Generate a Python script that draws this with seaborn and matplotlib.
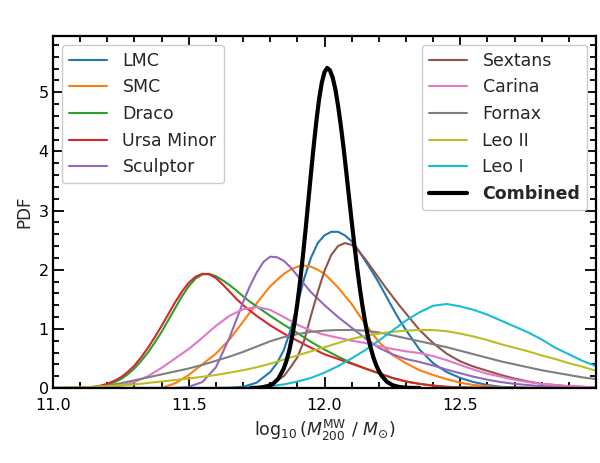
import numpy as np
import pandas as pd
import seaborn as sns
from matplotlib import pyplot as plt

# x grid shared by the broad curves
x_grid = [11.00, 11.05, 11.10, 11.15, 11.20, 11.25, 11.30, 11.35, 11.40, 11.45,
          11.50, 11.55, 11.60, 11.65, 11.70, 11.75, 11.80, 11.85, 11.90, 11.95,
          12.00, 12.05, 12.10, 12.15, 12.20, 12.25, 12.30, 12.35, 12.40, 12.45,
          12.50, 12.55, 12.60, 12.65, 12.70, 12.75, 12.80, 12.85, 12.90, 12.95,
          13.00]

carina_pdf = [0, 0, 0, 0.003, 0.01, 0.04, 0.10, 0.20, 0.34, 0.50,
              0.66, 0.85, 1.05, 1.22, 1.33, 1.37, 1.32, 1.20, 1.07, 0.97,
              0.90, 0.85, 0.80, 0.76, 0.71, 0.66, 0.62, 0.59, 0.54, 0.47,
              0.39, 0.31, 0.24, 0.19, 0.14, 0.10, 0.07, 0.05, 0.03, 0.02,
              0.01]
fornax_pdf = [0, 0.002, 0.005, 0.015, 0.04, 0.08, 0.13, 0.18, 0.23, 0.28,
              0.33, 0.39, 0.46, 0.53, 0.61, 0.70, 0.79, 0.86, 0.91, 0.95,
              0.97, 0.98, 0.98, 0.97, 0.94, 0.89, 0.84, 0.79, 0.74, 0.69,
              0.63, 0.57, 0.51, 0.45, 0.40, 0.35, 0.30, 0.26, 0.22, 0.18,
              0.15]
leo2_pdf = [0, 0.005, 0.01, 0.02, 0.03, 0.045, 0.06, 0.085, 0.11, 0.135,
            0.16, 0.19, 0.22, 0.26, 0.30, 0.35, 0.41, 0.48, 0.55, 0.62,
            0.69, 0.76, 0.83, 0.88, 0.92, 0.95, 0.97, 0.98, 0.98, 0.96,
            0.92, 0.87, 0.81, 0.74, 0.68, 0.62, 0.55, 0.49, 0.42, 0.36,
            0.29]
leo1_pdf = [0, 0, 0, 0, 0, 0, 0, 0, 0, 0,
            0, 0, 0, 0, 0, 0.01, 0.03, 0.06, 0.11, 0.17,
            0.26, 0.37, 0.50, 0.64, 0.80, 0.97, 1.14, 1.28, 1.39, 1.42,
            1.38, 1.32, 1.24, 1.14, 1.04, 0.94, 0.82, 0.68, 0.57, 0.46,
            0.37]

# curves with sharper peaks get their own, finer x values
dwarf_x = [11.00, 11.10, 11.15, 11.175, 11.20, 11.225, 11.25, 11.275, 11.30, 11.325,
           11.35, 11.375, 11.40, 11.425, 11.45, 11.475, 11.50, 11.525, 11.55, 11.575,
           11.60, 11.625, 11.65, 11.675, 11.70, 11.725, 11.75, 11.775, 11.80, 11.85,
           11.90, 11.95, 12.00, 12.05, 12.10, 12.15, 12.20, 12.25, 12.30, 12.35,
           12.40, 12.45, 12.50, 12.55, 13.00]
umi_pdf = [0, 0.005, 0.02, 0.04, 0.07, 0.12, 0.18, 0.27, 0.38, 0.52,
           0.68, 0.86, 1.05, 1.25, 1.45, 1.63, 1.78, 1.88, 1.93, 1.92,
           1.86, 1.75, 1.63, 1.51, 1.40, 1.31, 1.22, 1.14, 1.06, 0.92,
           0.80, 0.68, 0.57, 0.49, 0.41, 0.33, 0.25, 0.17, 0.11, 0.07,
           0.04, 0.02, 0.01, 0.005, 0]
draco_pdf = [0, 0.003, 0.015, 0.03, 0.055, 0.095, 0.15, 0.23, 0.33, 0.46,
             0.60, 0.77, 0.95, 1.15, 1.35, 1.55, 1.72, 1.85, 1.92, 1.93,
             1.89, 1.82, 1.74, 1.65, 1.55, 1.46, 1.38, 1.30, 1.22, 1.07,
             0.93, 0.78, 0.65, 0.53, 0.42, 0.33, 0.25, 0.17, 0.11, 0.07,
             0.04, 0.02, 0.01, 0.005, 0]

smc_x = [11.00, 11.40, 11.45, 11.50, 11.55, 11.60, 11.65, 11.70, 11.75, 11.80,
         11.85, 11.875, 11.90, 11.925, 11.95, 11.975, 12.00, 12.05, 12.10, 12.15,
         12.20, 12.25, 12.30, 12.35, 12.40, 12.45, 12.50, 12.55, 12.60, 12.65,
         12.70, 13.00]
smc_pdf = [0, 0, 0.08, 0.22, 0.40, 0.58, 0.82, 1.12, 1.43, 1.72,
           1.93, 2.00, 2.05, 2.07, 2.05, 2.00, 1.93, 1.70, 1.42, 1.08,
           0.78, 0.56, 0.42, 0.30, 0.22, 0.15, 0.09, 0.05, 0.03, 0.01,
           0, 0]

sculptor_x = [11.00, 11.45, 11.50, 11.55, 11.60, 11.65, 11.70, 11.725, 11.75, 11.775,
              11.80, 11.825, 11.85, 11.875, 11.90, 11.95, 12.00, 12.05, 12.10, 12.15,
              12.20, 12.25, 12.30, 12.35, 12.40, 12.45, 12.50, 12.55, 12.60, 12.65,
              12.70, 12.75, 12.80, 12.85, 12.90, 12.95, 13.00]
sculptor_pdf = [0, 0, 0.02, 0.10, 0.35, 0.85, 1.45, 1.72, 1.95, 2.13,
                2.22, 2.21, 2.15, 2.04, 1.90, 1.62, 1.40, 1.20, 1.02, 0.84,
                0.68, 0.57, 0.49, 0.44, 0.38, 0.31, 0.25, 0.19, 0.14, 0.10,
                0.07, 0.05, 0.03, 0.02, 0.01, 0.005, 0]

lmc_x = [11.00, 11.60, 11.65, 11.70, 11.75, 11.80, 11.825, 11.85, 11.875, 11.90,
         11.925, 11.95, 11.975, 12.00, 12.025, 12.05, 12.075, 12.10, 12.125, 12.15,
         12.175, 12.20, 12.225, 12.25, 12.275, 12.30, 12.35, 12.40, 12.45, 12.50,
         12.55, 12.60, 12.65, 12.70, 12.75, 13.00]
lmc_pdf = [0, 0, 0.005, 0.02, 0.09, 0.27, 0.42, 0.64, 0.98, 1.40,
           1.85, 2.20, 2.45, 2.58, 2.64, 2.64, 2.58, 2.48, 2.33, 2.15,
           1.97, 1.78, 1.57, 1.36, 1.16, 0.98, 0.65, 0.42, 0.27, 0.17,
           0.10, 0.05, 0.02, 0.01, 0, 0]

sextans_x = [11.00, 11.70, 11.75, 11.80, 11.85, 11.875, 11.90, 11.925, 11.95, 11.975,
             12.00, 12.025, 12.05, 12.075, 12.10, 12.125, 12.15, 12.175, 12.20, 12.225,
             12.25, 12.275, 12.30, 12.35, 12.40, 12.45, 12.50, 12.55, 12.60, 12.65,
             12.70, 12.75, 12.80, 12.85, 12.90, 12.95, 13.00]
sextans_pdf = [0, 0, 0.01, 0.06, 0.20, 0.35, 0.52, 0.80, 1.22, 1.62,
               1.98, 2.25, 2.40, 2.45, 2.42, 2.32, 2.18, 2.02, 1.86, 1.70,
               1.55, 1.40, 1.26, 0.98, 0.76, 0.58, 0.45, 0.36, 0.29, 0.22,
               0.16, 0.11, 0.07, 0.05, 0.03, 0.02, 0.01]

combined_x = [11.73, 11.75, 11.77, 11.79, 11.81, 11.83, 11.85, 11.86, 11.87, 11.88,
              11.89, 11.90, 11.91, 11.92, 11.93, 11.94, 11.95, 11.96, 11.97, 11.98,
              11.99, 12.00, 12.01, 12.02, 12.03, 12.04, 12.05, 12.06, 12.07, 12.08,
              12.09, 12.10, 12.11, 12.12, 12.13, 12.14, 12.15, 12.16, 12.17, 12.18,
              12.19, 12.20, 12.21, 12.23, 12.25, 12.27, 12.29, 12.31, 12.33, 12.35]
combined_pdf = [0.001, 0.003, 0.010, 0.028, 0.069, 0.157, 0.33, 0.46, 0.63, 0.85,
                1.11, 1.43, 1.80, 2.21, 2.66, 3.14, 3.62, 4.08, 4.51, 4.88,
                5.16, 5.34, 5.41, 5.37, 5.25, 5.05, 4.77, 4.44, 4.07, 3.66,
                3.24, 2.82, 2.42, 2.04, 1.69, 1.38, 1.11, 0.87, 0.68, 0.52,
                0.39, 0.29, 0.21, 0.105, 0.050, 0.022, 0.009, 0.003, 0.001, 0]

sns.set_style("ticks")
plt.rcParams['font.family'] = ['DejaVu Sans']
plt.rcParams['mathtext.fontset'] = 'dejavusans'

fig = plt.figure(figsize=(6.0, 4.63), dpi=100)
ax = fig.add_axes([53 / 600, 1 - 388 / 463, 543 / 600, 352 / 463])

palette = sns.color_palette("tab10")
curves = [
    ("LMC", lmc_x, lmc_pdf),
    ("SMC", smc_x, smc_pdf),
    ("Draco", dwarf_x, draco_pdf),
    ("Ursa Minor", dwarf_x, umi_pdf),
    ("Sculptor", sculptor_x, sculptor_pdf),
    ("Sextans", sextans_x, sextans_pdf),
    ("Carina", x_grid, carina_pdf),
    ("Fornax", x_grid, fornax_pdf),
    ("Leo II", x_grid, leo2_pdf),
    ("Leo I", x_grid, leo1_pdf),
]
for i, (name, xs, ys) in enumerate(curves):
    sns.lineplot(x=xs, y=ys, color=palette[i], lw=1.5, label=name, ax=ax,
                 estimator=None, sort=False)
sns.lineplot(x=combined_x, y=combined_pdf, color="black", lw=3, label="Combined",
             ax=ax, estimator=None, sort=False)

ax.set_xlim(11.0, 13.0)
ax.set_ylim(0, 5.95)
ax.set_xticks([11.0, 11.5, 12.0, 12.5])
ax.set_xticklabels(["11.0", "11.5", "12.0", "12.5"])
ax.set_xticks(np.arange(11.0, 13.0, 0.1), minor=True)
ax.set_yticks([0, 1, 2, 3, 4, 5])
ax.set_yticks(np.arange(0, 5.95, 0.2), minor=True)
ax.tick_params(which="both", direction="in", top=True, right=True, width=1.3,
               colors="black", labelsize=11.5)
ax.tick_params(which="major", length=8)
ax.tick_params(which="minor", length=4.5)
ax.tick_params(axis="x", pad=7)
ax.tick_params(axis="y", pad=3)
for s in ax.spines.values():
    s.set_linewidth(1.6)
    s.set_color("black")

ax.set_xlabel(r"$\log_{10}(M_{200}^{\rm MW}\ /\ M_{\odot})$", fontsize=12.5)
ax.set_ylabel("PDF", fontsize=12)

handles, labels = ax.get_legend_handles_labels()
leg1 = ax.legend(handles[:5], labels[:5], loc="upper left", fontsize=12.5,
                 handlelength=2.2, handletextpad=0.9,
                 frameon=True, edgecolor="0.8", framealpha=1, fancybox=True)
ax.add_artist(leg1)
leg2 = ax.legend(handles[5:], labels[5:], loc="upper right", fontsize=12.5,
                 handlelength=2.2, handletextpad=0.9,
                 frameon=True, edgecolor="0.8", framealpha=1, fancybox=True)
leg2.get_texts()[-1].set_fontweight("bold")

fig.savefig("out.png", dpi=100)
